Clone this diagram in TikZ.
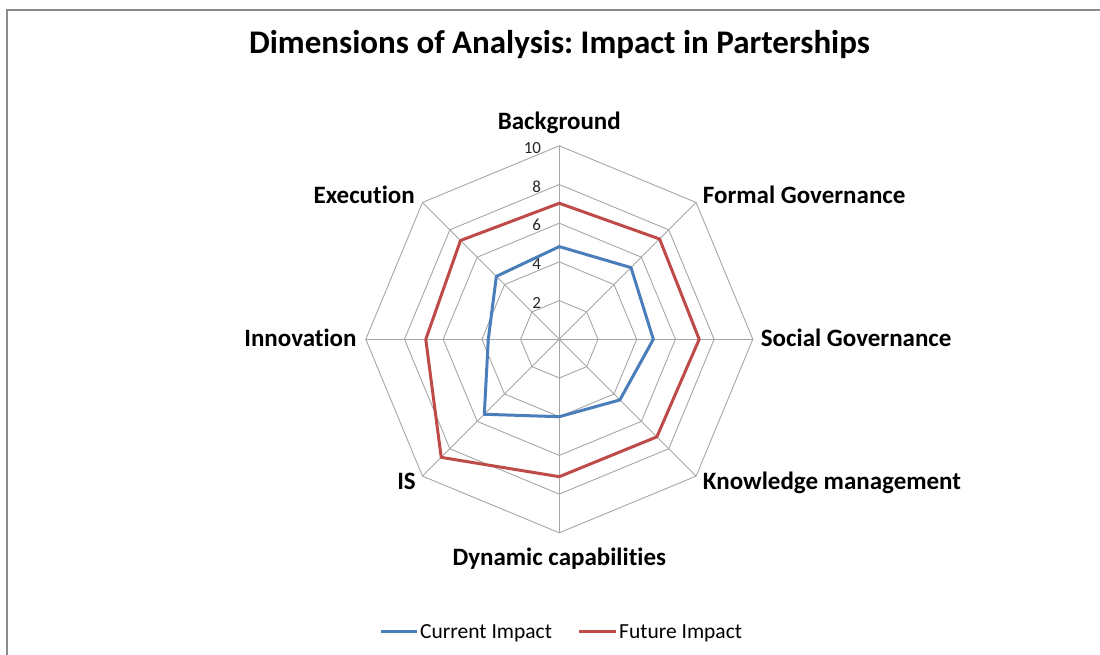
\documentclass[tikz,border=0pt]{standalone}
\usepackage{fontspec}
\setmainfont[Ligatures=NoCommon]{Carlito}
\usetikzlibrary{calc}
\definecolor{curblue}{HTML}{4A7EBB}
\definecolor{futred}{HTML}{BE4B48}
\definecolor{gridgray}{HTML}{A6A6A6}
\definecolor{framegray}{HTML}{8C8C8C}
\def\ur{19.35}
\frenchspacing
\begin{document}
\begin{tikzpicture}[x=1pt,y=1pt,
  axislabel/.style={font=\fontsize{25}{29}\selectfont\bfseries, inner sep=0pt},
  ticklabel/.style={font=\fontsize{17}{20}\selectfont, inner sep=0pt, anchor=east, text=black!85},
  legendtext/.style={font=\fontsize{21.5}{24}\selectfont, inner sep=0pt, anchor=base west},
  series/.style={line width=3pt, line join=round}]
\useasboundingbox (-559.3,-315.7) rectangle (540.7,339.3);
\draw[framegray, line width=1.5pt] (-552.3,-315.7) -- (-552.3,329.3) -- (540.7,329.3);
\node[font=\fontsize{33}{38}\selectfont\bfseries, anchor=base] (title) at (0.2,285.3) {Dimensions of Analysis: Impact in Parterships};
% grid
\coordinate (c) at (0,0);
\foreach \r in {2,4,6,8,10}
  \draw[gridgray, line width=0.9pt] (90:\r*\ur) \foreach \a in {45,0,-45,-90,-135,180,135} { -- (\a:\r*\ur) } -- cycle;
\foreach \a [count=\i] in {90,45,0,-45,-90,-135,180,135} {
  \coordinate (ax\i) at (\a:10*\ur);
  \draw[gridgray, line width=0.9pt] (c) -- (ax\i);
}
\foreach \v in {2,4,...,10}
  \node[ticklabel] (t\v) at (-18,\v*\ur-2) {\v};
% axis labels
\node[axislabel, anchor=base] (bg) at (0,210) {Background};
\node[axislabel, anchor=base west] (fg) at (143.4,135.3) {Formal Governance};
\node[axislabel, anchor=base west] (sg) at (201.4,-7.4) {Social Governance};
\node[axislabel, anchor=base west] (km) at (143.4,-150.7) {Knowledge management};
\node[axislabel, anchor=base] (dc) at (0,-226.7) {Dynamic capabilities};
\node[axislabel, anchor=base east] (is) at (-143.3,-150.7) {IS};
\node[axislabel, anchor=base east] (inn) at (-202.6,-7.4) {Innovation};
\node[axislabel, anchor=base east] (ex) at (-144.3,135.3) {Execution};
% series
\draw[series, curblue] (90:4.79*\ur) -- (45:5.24*\ur) -- (0:4.86*\ur) -- (-45:4.43*\ur) -- (-90:4.0*\ur) -- (-135:5.48*\ur) -- (180:3.67*\ur) -- (135:4.6*\ur) -- cycle;
\draw[series, futred] (90:7.03*\ur) -- (45:7.33*\ur) -- (0:7.23*\ur) -- (-45:7.13*\ur) -- (-90:7.1*\ur) -- (-135:8.63*\ur) -- (180:6.9*\ur) -- (135:7.22*\ur) -- cycle;
% legend
\coordinate (lc1) at (-178.6,-292.4);
\coordinate (lc2) at (-142,-292.4);
\coordinate (lf1) at (20,-292.4);
\coordinate (lf2) at (56.7,-292.4);
\draw[curblue, line width=3pt] (lc1) -- (lc2);
\draw[futred, line width=3pt] (lf1) -- (lf2);
\node[legendtext] (curtext) at (-139.3,-298.7) {Current Impact};
\node[legendtext] (futtext) at (59.7,-298.7) {Future Impact};
\end{tikzpicture}
\end{document}
